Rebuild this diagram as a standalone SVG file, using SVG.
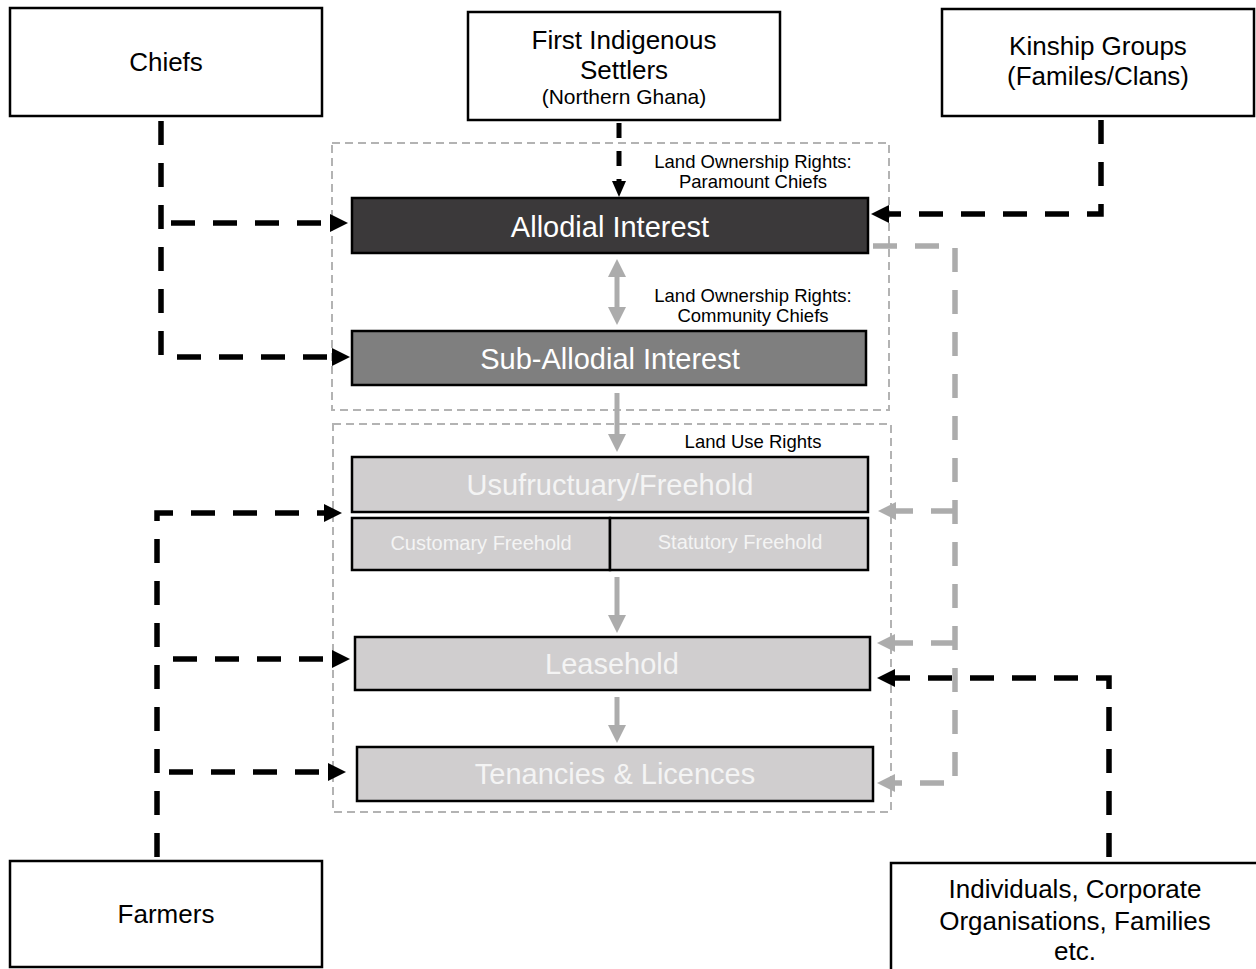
<svg xmlns="http://www.w3.org/2000/svg" width="1256" height="969" viewBox="0 0 1256 969">
  <style>
    .box { fill: #ffffff; stroke: #000000; stroke-width: 2.5; }
    .tier { stroke: #000000; stroke-width: 2.5; }
    .dark { fill: #3b393a; }
    .mid { fill: #7f7f7f; }
    .light { fill: #d0cecf; }
    .frame { fill: none; stroke: #b3b3b3; stroke-width: 2; stroke-dasharray: 8 5; }
    .lbl { font-family: "Liberation Sans", Arial, sans-serif; font-size: 26px; fill: #000000; text-anchor: middle; }
    .lbl.sub { font-size: 21px; }
    .note { font-family: "Liberation Sans", Arial, sans-serif; font-size: 18.5px; fill: #000000; text-anchor: middle; }
    .tierTxt { font-family: "Liberation Sans", Arial, sans-serif; font-size: 29px; text-anchor: middle; }
    .halfTxt { font-family: "Liberation Sans", Arial, sans-serif; font-size: 20px; text-anchor: middle; }
    .wht { fill: #ffffff; }
    .pale { fill: #f4f4f4; }
    .blk { fill: none; stroke: #000000; stroke-width: 5.5; stroke-dasharray: 24 18; }
    .blkThin { fill: none; stroke: #000000; stroke-width: 5; stroke-dasharray: 15 13; }
    .gry { fill: none; stroke: #acacac; stroke-width: 5.5; stroke-dasharray: 24 18; }
    .gsolid { fill: none; stroke: #acacac; stroke-width: 5; }
  </style>
  <defs>
    <marker id="arrB" viewBox="0 0 18 18" markerUnits="userSpaceOnUse" markerWidth="18" markerHeight="18" refX="0" refY="9" orient="auto">
      <path d="M0,0 L18,9 L0,18 Z" fill="#000000"/>
    </marker>
    <marker id="arrBs" viewBox="0 0 16 14" markerUnits="userSpaceOnUse" markerWidth="16" markerHeight="14" refX="0" refY="7" orient="auto">
      <path d="M0,0 L16,7 L0,14 Z" fill="#000000"/>
    </marker>
    <marker id="arrG" viewBox="0 0 18 18" markerUnits="userSpaceOnUse" markerWidth="18" markerHeight="18" refX="0" refY="9" orient="auto-start-reverse">
      <path d="M0,0 L18,9 L0,18 Z" fill="#acacac"/>
    </marker>
  </defs>

  <!-- dashed frames: ownership rights and use rights -->
  <g id="frames">
    <rect class="frame" x="332" y="143" width="557" height="267"/>
    <rect class="frame" x="333" y="424" width="558" height="388"/>
  </g>

  <!-- source nodes -->
  <g id="chiefs">
    <rect class="box" x="10" y="8" width="312" height="108"/>
    <text class="lbl" x="166" y="71">Chiefs</text>
  </g>
  <g id="settlers">
    <rect class="box" x="468" y="12" width="312" height="108"/>
    <text class="lbl" x="624" y="49">First Indigenous</text>
    <text class="lbl" x="624" y="79">Settlers</text>
    <text class="lbl sub" x="624" y="104">(Northern Ghana)</text>
  </g>
  <g id="kinship">
    <rect class="box" x="942" y="9" width="312" height="107"/>
    <text class="lbl" x="1098" y="55">Kinship Groups</text>
    <text class="lbl" x="1098" y="85">(Familes/Clans)</text>
  </g>
  <g id="farmers">
    <rect class="box" x="10" y="861" width="312" height="106"/>
    <text class="lbl" x="166" y="923">Farmers</text>
  </g>
  <g id="individuals">
    <rect class="box" x="891" y="863" width="380" height="112"/>
    <text class="lbl" x="1075" y="898">Individuals, Corporate</text>
    <text class="lbl" x="1075" y="930">Organisations, Families</text>
    <text class="lbl" x="1075" y="960">etc.</text>
  </g>

  <!-- interest tiers -->
  <g id="allodial">
    <rect class="tier dark" x="352" y="198" width="516" height="55"/>
    <text class="tierTxt wht" x="610" y="237">Allodial Interest</text>
  </g>
  <g id="sub-allodial">
    <rect class="tier mid" x="352" y="331" width="514" height="54"/>
    <text class="tierTxt wht" x="610" y="369">Sub-Allodial Interest</text>
  </g>
  <g id="usufructuary">
    <rect class="tier light" x="352" y="457" width="516" height="55"/>
    <text class="tierTxt pale" x="610" y="495">Usufructuary/Freehold</text>
  </g>
  <g id="customary">
    <rect class="tier light" x="352" y="518" width="258" height="52"/>
    <text class="halfTxt pale" x="481" y="550">Customary Freehold</text>
  </g>
  <g id="statutory">
    <rect class="tier light" x="610" y="518" width="258" height="52"/>
    <text class="halfTxt pale" x="740" y="549">Statutory Freehold</text>
  </g>
  <g id="leasehold">
    <rect class="tier light" x="355" y="637" width="515" height="53"/>
    <text class="tierTxt pale" x="612" y="674">Leasehold</text>
  </g>
  <g id="tenancies">
    <rect class="tier light" x="357" y="747" width="516" height="54"/>
    <text class="tierTxt pale" x="615" y="784">Tenancies &amp; Licences</text>
  </g>

  <!-- annotations -->
  <g id="notes">
    <text class="note" x="753" y="168">Land Ownership Rights:</text>
    <text class="note" x="753" y="188">Paramount Chiefs</text>
    <text class="note" x="753" y="302">Land Ownership Rights:</text>
    <text class="note" x="753" y="322">Community Chiefs</text>
    <text class="note" x="753" y="448">Land Use Rights</text>
  </g>

  <!-- connectors -->
  <g id="connectors">
    <!-- chiefs -->
    <path class="blk" d="M161,121 V357 H332" marker-end="url(#arrB)"/>
    <path class="blk" d="M171,223 H330" marker-end="url(#arrB)"/>
    <!-- first settlers -->
    <path class="blkThin" d="M619,123 V181" marker-end="url(#arrBs)"/>
    <!-- kinship groups -->
    <path class="blk" d="M1101,120 V214 H889" marker-end="url(#arrB)"/>
    <!-- farmers -->
    <path class="blk" d="M157,857 V513 H324" marker-end="url(#arrB)"/>
    <path class="blk" d="M173,659 H332" marker-end="url(#arrB)"/>
    <path class="blk" d="M169,772 H328" marker-end="url(#arrB)"/>
    <!-- individuals etc. -->
    <path class="blk" d="M1109,857 V678 H895" marker-end="url(#arrB)"/>
    <!-- allodial holder grants downward -->
    <path class="gry" d="M873,246 H955 V783 H895" marker-end="url(#arrG)"/>
    <path class="gry" d="M955,511 H896" marker-end="url(#arrG)"/>
    <path class="gry" d="M955,643 H895" marker-end="url(#arrG)"/>
    <!-- tier flow -->
    <path class="gsolid" d="M617,277 V307" marker-start="url(#arrG)" marker-end="url(#arrG)"/>
    <path class="gsolid" d="M617,393 V434" marker-end="url(#arrG)"/>
    <path class="gsolid" d="M617,577 V615" marker-end="url(#arrG)"/>
    <path class="gsolid" d="M617,697 V725" marker-end="url(#arrG)"/>
  </g>
</svg>
